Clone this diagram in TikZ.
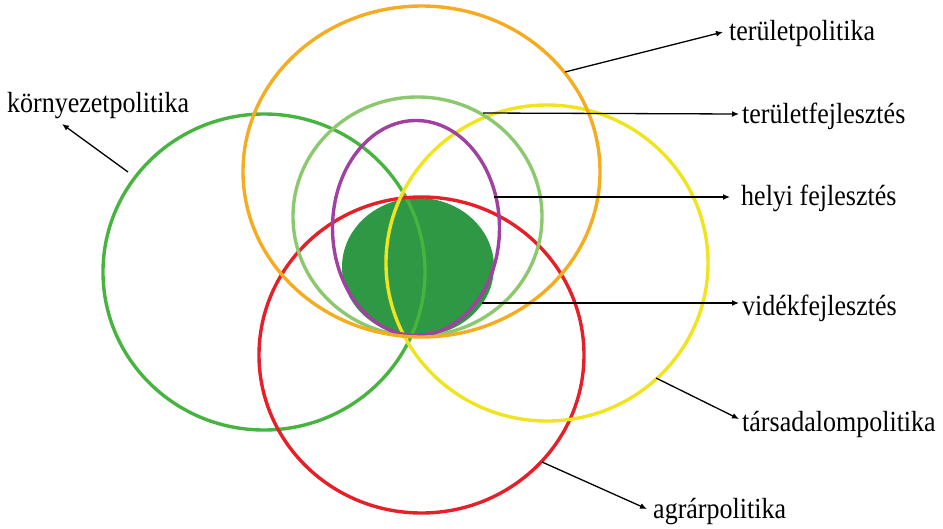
\documentclass[tikz,border=0pt]{standalone}
\usepackage{graphicx}
\usepackage{fontspec}
\setmainfont{Liberation Serif}
\usetikzlibrary{arrows.meta}
\definecolor{corange}{RGB}{246,172,32}
\definecolor{cenv}{RGB}{72,180,64}
\definecolor{clight}{RGB}{140,200,110}
\definecolor{cpurple}{RGB}{160,64,160}
\definecolor{cdark}{RGB}{46,152,68}
\definecolor{cyellow}{RGB}{240,228,30}
\definecolor{cred}{RGB}{230,32,40}
\newcommand{\tallt}[1]{\scalebox{1}[1.12]{#1}}
\begin{document}
\begin{tikzpicture}[x=1pt,y=-1pt,
  ring/.style={line width=3.4pt},
  lbl/.style={anchor=base west, inner sep=0pt, font=\fontsize{26}{30}\selectfont},
  pointer/.style={line width=1.3pt, -{Latex[length=7pt,width=6pt]}}]
\useasboundingbox (0,0) rectangle (943,528);
% filled core
\fill[cdark] (418,267) ellipse [x radius=76pt, y radius=69pt];
% rings
\draw[ring,cenv] (264,272) ellipse [x radius=161pt, y radius=158pt];
\draw[ring,cred] (421.5,355) ellipse [x radius=162.5pt, y radius=158pt];
\draw[ring,cyellow] (547,263) ellipse [x radius=161pt, y radius=158pt];
\draw[ring,clight] (417.5,216.5) ellipse [x radius=124.5pt, y radius=119.5pt];
\draw[ring,cpurple] (416,228) ellipse [x radius=83.5pt, y radius=107.5pt];
\draw[ring,corange] (421.5,171.5) ellipse [x radius=178.5pt, y radius=165.5pt];
% labels
\node[lbl] (tp) at (729,40) {\tallt{területpolitika}};
\node[lbl] (tf) at (742,123) {\tallt{területfejlesztés}};
\node[lbl] (hf) at (741,205) {\tallt{helyi fejlesztés}};
\node[lbl] (vf) at (742,315) {\tallt{vidékfejlesztés}};
\node[lbl] (ts) at (742,431) {\tallt{társadalompolitika}};
\node[lbl] (ag) at (653,518) {\tallt{agrárpolitika}};
\node[lbl] (kp) at (7,112) {\tallt{környezetpolitika}};
% start points on rings
\coordinate (stp) at (565,72);
\coordinate (stf) at (483,113);
\coordinate (shf) at (494,197);
\coordinate (svf) at (482,303);
\coordinate (sts) at (656,378);
\coordinate (sag) at (542,462);
\coordinate (skp) at (128,172);
% arrow tips
\coordinate (etp) at (723,32);
\coordinate (etf) at (739,114);
\coordinate (ehf) at (730,197);
\coordinate (evf) at (739,303);
\coordinate (ets) at (739,419);
\coordinate (eag) at (647,509);
\coordinate (ekp) at (62,124);
\draw[pointer] (stp) -- (etp);
\draw[pointer] (stf) -- (etf);
\draw[pointer] (shf) -- (ehf);
\draw[pointer] (svf) -- (evf);
\draw[pointer] (sts) -- (ets);
\draw[pointer] (sag) -- (eag);
\draw[pointer] (skp) -- (ekp);
\end{tikzpicture}
\end{document}
